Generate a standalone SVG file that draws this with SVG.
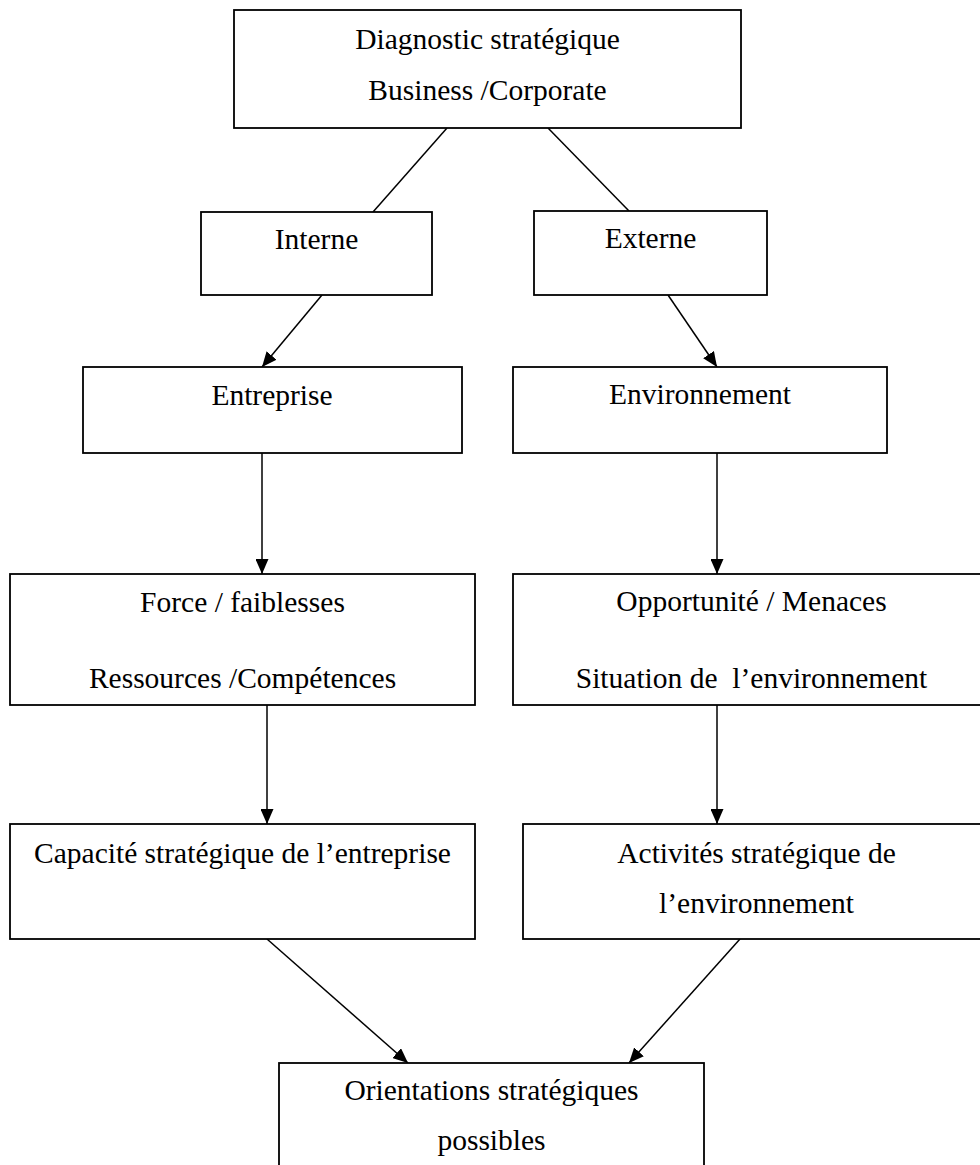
<svg xmlns="http://www.w3.org/2000/svg" width="980" height="1165" viewBox="0 0 980 1165">
  <style>
    .box { fill: #ffffff; stroke: #000000; stroke-width: 1.8; }
    .lbl { font-family: "Liberation Serif", "Times New Roman", serif; font-size: 29.5px; fill: #000000; text-anchor: middle; white-space: pre; }
    .link { fill: none; stroke: #000000; stroke-width: 1.5; }
  </style>
  <defs>
    <marker id="arrow" viewBox="0 0 15 13" markerWidth="15" markerHeight="13" refX="15" refY="6.5" orient="auto" markerUnits="userSpaceOnUse">
      <path d="M0,0 L15,6.5 L0,13 z" fill="#000000"/>
    </marker>
  </defs>
  <rect x="0" y="0" width="980" height="1165" fill="#ffffff"/>

  <!-- connectors -->
  <g id="connectors">
    <line class="link" x1="447" y1="128" x2="373" y2="212"/>
    <line class="link" x1="548" y1="128" x2="629" y2="211"/>
    <line class="link" x1="322" y1="295" x2="262" y2="367" marker-end="url(#arrow)"/>
    <line class="link" x1="668" y1="295" x2="717" y2="367" marker-end="url(#arrow)"/>
    <line class="link" x1="262" y1="453" x2="262" y2="574" marker-end="url(#arrow)"/>
    <line class="link" x1="717" y1="453" x2="717" y2="574" marker-end="url(#arrow)"/>
    <line class="link" x1="267" y1="705" x2="267" y2="824" marker-end="url(#arrow)"/>
    <line class="link" x1="717" y1="705" x2="717" y2="824" marker-end="url(#arrow)"/>
    <line class="link" x1="267" y1="939" x2="408" y2="1063" marker-end="url(#arrow)"/>
    <line class="link" x1="740" y1="939" x2="629" y2="1063" marker-end="url(#arrow)"/>
  </g>

  <g id="diagnostic">
    <rect class="box" x="234" y="10" width="507" height="118"/>
    <text class="lbl" x="487.5" y="49">Diagnostic stratégique</text>
    <text class="lbl" x="487.5" y="100">Business /Corporate</text>
  </g>

  <g id="interne">
    <rect class="box" x="201" y="212" width="231" height="83"/>
    <text class="lbl" x="316.5" y="249">Interne</text>
  </g>

  <g id="externe">
    <rect class="box" x="534" y="211" width="233" height="84"/>
    <text class="lbl" x="650.5" y="248">Externe</text>
  </g>

  <g id="entreprise">
    <rect class="box" x="83" y="367" width="379" height="86"/>
    <text class="lbl" x="272" y="405">Entreprise</text>
  </g>

  <g id="environnement">
    <rect class="box" x="513" y="367" width="374" height="86"/>
    <text class="lbl" x="700" y="404">Environnement</text>
  </g>

  <g id="forces">
    <rect class="box" x="10" y="574" width="465" height="131"/>
    <text class="lbl" x="242.5" y="612">Force / faiblesses</text>
    <text class="lbl" x="242.5" y="688">Ressources /Compétences</text>
  </g>

  <g id="opportunites">
    <rect class="box" x="513" y="574" width="477" height="131"/>
    <text class="lbl" x="751.5" y="611">Opportunité / Menaces</text>
    <text class="lbl" x="751.5" y="688">Situation de  l’environnement</text>
  </g>

  <g id="capacite">
    <rect class="box" x="10" y="824" width="465" height="115"/>
    <text class="lbl" x="242.5" y="863">Capacité stratégique de l’entreprise</text>
  </g>

  <g id="activites">
    <rect class="box" x="523" y="824" width="467" height="115"/>
    <text class="lbl" x="756.5" y="863">Activités stratégique de</text>
    <text class="lbl" x="756.5" y="913">l’environnement</text>
  </g>

  <g id="orientations">
    <rect class="box" x="279" y="1063" width="425" height="140"/>
    <text class="lbl" x="491.5" y="1100">Orientations stratégiques</text>
    <text class="lbl" x="491.5" y="1150">possibles</text>
  </g>
</svg>
